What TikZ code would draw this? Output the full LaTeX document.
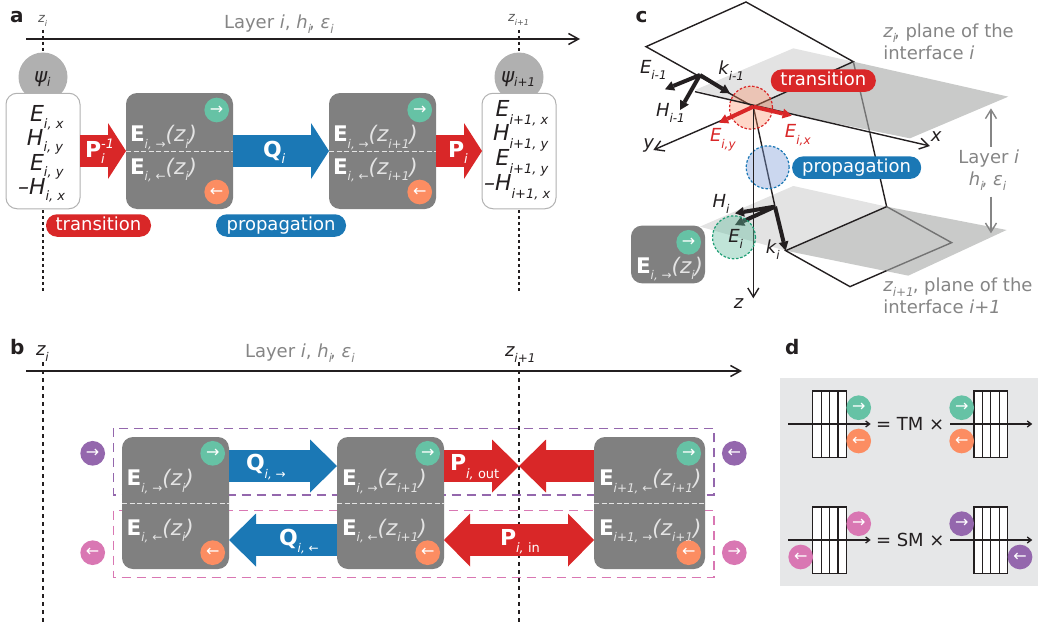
\documentclass[tikz,border=0pt]{standalone}
\usepackage{fontspec}
\setmainfont{DejaVu Sans}
\usetikzlibrary{arrows.meta, positioning, calc}

\definecolor{myred}{HTML}{D92728}
\definecolor{myblue}{HTML}{1B78B5}
\definecolor{boxgray}{HTML}{808080}
\definecolor{textgray}{HTML}{858585}
\definecolor{sublight}{HTML}{E4E4E4}
\definecolor{ink}{HTML}{231F20}
\definecolor{fwdgreen}{HTML}{66C2A5}
\definecolor{backorange}{HTML}{FC8D62}
\definecolor{mypurple}{HTML}{9467AD}
\definecolor{mypink}{HTML}{D977B3}
\definecolor{planelight}{HTML}{E3E3E3}
\definecolor{planedark}{HTML}{C9CAC9}
\definecolor{panelback}{HTML}{E6E7E8}
\definecolor{ringgreen}{HTML}{1F9E75}
\definecolor{ringblue}{HTML}{7C9AD6}

\newcommand{\dlow}[2][7pt]{\raisebox{-#1}{\fontsize{12}{12}\selectfont\itshape #2}}
\newcommand{\rarr}{{\upshape →}}
\newcommand{\larr}{{\upshape ←}}
\newcommand{\fieldtxt}[2]{{\bfseries E}\textcolor{sublight}{\dlow[6.5pt]{#1}\itshape(z\dlow[6.5pt]{#2})}}
\newcommand{\layerstack}[3]{%
    \foreach \k in {0,1,2,3}
        \node[stackcell] (#3\k) at ({#1+8.4*\k},#2) {};}

\tikzset{
    txt/.style={ % Every free text is placed by its baseline
        inner sep=0pt, outer sep=0pt, anchor=base west,
        text=ink, font=\fontsize{18}{20}\selectfont
    },
    greytxt/.style={txt, text=textgray},
    whitetxt/.style={txt, text=white, font=\fontsize{22}{24}\selectfont\bfseries},
    fieldlab/.style={txt, text=white, font=\fontsize{21.5}{23}\selectfont},
    rowtxt/.style={txt, font=\fontsize{22}{24}\selectfont\itshape},
    panel/.style={txt, font=\fontsize{20}{22}\selectfont\bfseries},
    fieldbox/.style={ % Grey boxes with the two field amplitudes
        fill=boxgray, rounded corners=11pt, inner sep=0pt, outer sep=0pt
    },
    rowbox/.style={
        draw=black!30, fill=white, line width=1pt, rounded corners=11pt,
        inner sep=0pt, outer sep=0pt, minimum width=74pt, minimum height=115.5pt
    },
    psi/.style={circle, fill=black!31, inner sep=0pt, minimum size=49pt},
    dot/.style={
        circle, inner sep=0pt, minimum size=24.7pt, text=white,
        font=\fontsize{16}{16}\selectfont
    },
    pill/.style={
        fill=#1, text=white, rounded corners=11pt, inner sep=0pt,
        minimum height=22.5pt, text height=13pt, text depth=3.5pt,
        font=\fontsize{18}{20}\selectfont
    },
    blockarrow/.style={line width=32pt, -{Triangle[length=18pt,width=56pt,line width=0pt]}},
    widearrow/.style={line width=32pt, -{Triangle[length=27pt,width=53pt,line width=0pt]}},
    bothwide/.style={line width=32pt, {Triangle[length=26pt,width=53pt,line width=0pt]}-{Triangle[length=26pt,width=53pt,line width=0pt]}},
    zline/.style={draw=ink, line width=1.5pt, dash pattern=on 3pt off 3pt},
    zlineb/.style={draw=ink, line width=1.5pt, dash pattern=on 4pt off 4pt},
    axis/.style={draw=ink, line width=1.5pt, -{Straight Barb[length=10pt,width=11pt]}},
    thinaxis/.style={draw=ink, line width=1.4pt, -{Straight Barb[length=9pt,width=11pt]}},
    edgeblack/.style={draw=ink, line width=1.4pt},
    edgegrey/.style={draw=black!55, line width=1.4pt},
    vec/.style={line width=4pt, -{Triangle[length=9pt,width=10pt,line width=0pt]}},
    halfline/.style={draw=sublight, line width=1pt, dash pattern=on 5pt off 2.5pt},
    stackcell/.style={
        draw=ink, fill=white, line width=1.3pt, inner sep=0pt, outer sep=0pt,
        minimum width=8.4pt, minimum height=66.7pt
    },
    daxis/.style={draw=ink, line width=1.3pt, -{Straight Barb[length=4pt,width=6pt]}},
    ringfill/.style={circle, minimum size=43pt, inner sep=0pt, line width=1.2pt, dash pattern=on 2.5pt off 1.8pt}
}

\begin{document}
\begin{tikzpicture}[x=1pt,y=-1pt]
    \useasboundingbox (0,0) rectangle (1038,626);

    % panel a
    \coordinate (za0) at (43,30);   \coordinate (za1) at (43,291);
    \coordinate (zb0) at (519,30);  \coordinate (zb1) at (519,291);
    \coordinate (axa0) at (26,39);  \coordinate (axa1) at (580,39);
    \draw[zline] (za0) -- (za1);
    \draw[zline] (zb0) -- (zb1);
    \draw[axis] (axa0) -- (axa1);
    \node[panel] (la) at (10,23) {a};
    \node[txt, font=\fontsize{13}{13}\selectfont\itshape, text=black!65] (za) at (38,23) {z\raisebox{-4pt}{\fontsize{8}{8}\selectfont i}};
    \node[txt, font=\fontsize{13}{13}\selectfont\itshape, text=black!65] (zb) at (508,22) {z\raisebox{-4pt}{\fontsize{8}{8}\selectfont i+1}};
    \node[greytxt] (layera) at (224,29) {Layer {\itshape i}, {\itshape h}\dlow[5pt]{i}\kern-2pt, {\itshape ε}\dlow[5pt]{i}};

    \node[psi] (psia) at (43,77) {};
    \node[psi] (psib) at (519,77) {};
    \node[txt, font=\fontsize{20}{20}\selectfont\itshape] (psiat) at (34,82) {ψ\dlow[4pt]{i}};
    \node[txt, font=\fontsize{20}{20}\selectfont\itshape] (psibt) at (501,82) {ψ\dlow[4pt]{i+1}};
    \node[rowbox] (rowa) at (43,151) {};
    \node[rowbox] (rowb) at (519,151) {};

    \node[rowtxt] (a1) at (30,121.7) {E\dlow[6.5pt]{\fontsize{13}{13}\selectfont i, x}};
    \node[rowtxt] (a2) at (27,145) {H\dlow[6.5pt]{\fontsize{13}{13}\selectfont i, y}};
    \node[rowtxt] (a3) at (30,170) {E\dlow[6.5pt]{\fontsize{13}{13}\selectfont i, y}};
    \node[rowtxt] (a4) at (18,194) {–H\dlow[6.5pt]{\fontsize{13}{13}\selectfont i, x}};
    \node[rowtxt] (b1) at (495.7,116) {E\dlow[8pt]{\fontsize{13}{13}\selectfont i+1, x}};
    \node[rowtxt] (b2) at (493,140) {H\dlow[8pt]{\fontsize{13}{13}\selectfont i+1, y}};
    \node[rowtxt] (b3) at (495.7,165.7) {E\dlow[8pt]{\fontsize{13}{13}\selectfont i+1, y}};
    \node[rowtxt] (b4) at (484,190.7) {–H\dlow[8pt]{\fontsize{13}{13}\selectfont i+1, x}};

    \node[fieldbox, minimum width=107pt, minimum height=116pt] (boxa) at (179.5,151) {};
    \node[fieldbox, minimum width=107pt, minimum height=116pt] (boxb) at (382.5,151) {};
    \draw[halfline] (boxa.west) -- (boxa.east);
    \draw[halfline] (boxb.west) -- (boxb.east);
    \node[dot, fill=fwdgreen] (afwd) at (216.7,110) {→};
    \node[dot, fill=backorange] (aback) at (216.7,192) {←};
    \node[dot, fill=fwdgreen] (bfwd) at (419.7,110) {→};
    \node[dot, fill=backorange] (bback) at (419.7,192) {←};
    \node[fieldlab] (ea1) at (130,141.6) {\fieldtxt{i, \rarr}{i}};
    \node[fieldlab] (ea2) at (130,174) {\fieldtxt{i, \larr}{i}};
    \node[fieldlab] (eb1) at (333,141.6) {\fieldtxt{i, \rarr}{i+1}};
    \node[fieldlab] (eb2) at (333,174) {\fieldtxt{i, \larr}{i+1}};

    \draw[blockarrow, myred] (rowa.east) -- (boxa.west);
    \draw[blockarrow, myblue] (boxa.east) -- (boxb.west);
    \draw[blockarrow, myred] (boxb.east) -- (rowb.west);
    \node[whitetxt] (pa) at (85,157) {P\dlow[6.5pt]{\fontsize{13}{13}\selectfont\mdseries i}\kern-3.5pt\raisebox{8.5pt}{\fontsize{13}{13}\selectfont\mdseries\itshape -1}};
    \node[whitetxt] (qa) at (263,157) {Q\dlow[6.5pt]{\fontsize{13}{13}\selectfont\mdseries i}};
    \node[whitetxt] (pb) at (448,157) {P\dlow[6.5pt]{\fontsize{13}{13}\selectfont\mdseries i}};
    \node[pill=myred, minimum width=105pt] (transa) at (98.5,225.5) {transition};
    \node[pill=myblue, minimum width=130pt] (propa) at (281,225.5) {propagation};

    % panel b
    \coordinate (zc0) at (43,362);   \coordinate (zc1) at (43,626);
    \coordinate (zd0) at (519,362);  \coordinate (zd1) at (519,626);
    \coordinate (axb0) at (26,371);  \coordinate (axb1) at (742,371);
    \coordinate (rowtop) at (0,466); \coordinate (rowbot) at (0,540);
    \coordinate (tipout) at (519,466);
    \draw[zlineb] (zc0) -- (zc1);
    \draw[zlineb] (zd0) -- (zd1);
    \draw[axis] (axb0) -- (axb1);
    \node[panel] (lb) at (10,354) {b};
    \node[txt] (zc) at (36,355) {\itshape z\dlow[6pt]{i}};
    \node[txt] (zd) at (505,356) {\itshape z\dlow[6pt]{i+1}};
    \node[greytxt] (layerb) at (245,357) {Layer {\itshape i}, {\itshape h}\dlow[5pt]{i}\kern-2pt, {\itshape ε}\dlow[5pt]{i}};

    \draw[mypurple, line width=1.3pt, dash pattern=on 9pt off 6pt] (113.3,428.3) rectangle (714,495);
    \draw[mypink, line width=1.3pt, dash pattern=on 9pt off 6pt] (113.3,510.7) rectangle (714,577.3);

    \node[fieldbox, minimum width=107pt, minimum height=132pt] (boxc) at (175.5,503) {};
    \node[fieldbox, minimum width=107pt, minimum height=132pt] (boxd) at (390.5,503) {};
    \node[fieldbox, minimum width=111pt, minimum height=132pt] (boxe) at (649.5,503) {};
    \draw[halfline] (boxc.west) -- (boxc.east);
    \draw[halfline] (boxd.west) -- (boxd.east);
    \draw[halfline] (boxe.west) -- (boxe.east);

    \draw[widearrow, myblue] (boxc.east |- rowtop) -- (boxd.west |- rowtop);
    \draw[widearrow, myblue] (boxd.west |- rowbot) -- (boxc.east |- rowbot);
    \draw[widearrow, myred] (boxd.east |- rowtop) -- (tipout);
    \draw[widearrow, myred] (boxe.west |- rowtop) -- (tipout);
    \draw[bothwide, myred] (boxd.east |- rowbot) -- (boxe.west |- rowbot);

    \node[dot, fill=mypurple] (sideaf) at (92.7,453.3) {→};
    \node[dot, fill=mypink] (sideab) at (92.7,552.7) {←};
    \node[dot, fill=mypurple] (sidebb) at (734.3,453.3) {←};
    \node[dot, fill=mypink] (sidebf) at (734.3,552.7) {→};
    \node[dot, fill=fwdgreen] (cfwd) at (212.7,453.3) {→};
    \node[dot, fill=backorange] (cback) at (212.7,552.7) {←};
    \node[dot, fill=fwdgreen] (dfwd) at (427.7,453.3) {→};
    \node[dot, fill=backorange] (dback) at (427.7,552.7) {←};
    \node[dot, fill=fwdgreen] (efwd) at (688.7,453.3) {→};

    \node[fieldlab] (ec1) at (126.7,485.7) {\fieldtxt{i, \rarr}{i}};
    \node[fieldlab] (ec2) at (126.7,535) {\fieldtxt{i, \larr}{i}};
    \node[fieldlab] (ed1) at (342,485.7) {\fieldtxt{i, \rarr}{i+1}};
    \node[fieldlab] (ed2) at (342,535) {\fieldtxt{i, \larr}{i+1}};
    \node[fieldlab] (ee1) at (599,485.7) {\fieldtxt{i+1, \larr}{i+1}};
    \node[fieldlab] (ee2) at (599,535) {\fieldtxt{i+1, \rarr}{i+1}};
    \node[dot, fill=backorange] (eback) at (688.7,552.7) {←};

    \node[whitetxt] (qc) at (246,470) {Q\dlow[8pt]{\mdseries i, \rarr}};
    \node[whitetxt] (qd) at (279,545) {Q\dlow[7pt]{\mdseries i, \larr}};
    \node[whitetxt] (pout) at (450,470) {P\dlow[8pt]{\mdseries\fontsize{13}{13}\selectfont i, {\upshape out}}};
    \node[whitetxt] (pin) at (500,545) {P\dlow[7pt]{\mdseries\fontsize{13}{13}\selectfont i, {\upshape in}}};

    % panel c, typed in a finer grid
    \node[panel] (lc) at (635.7,23) {c};
    \begin{scope}[shift={(620,0)},x=0.3333pt,y=-0.3333pt]
        \coordinate (ori) at (400,320);
        \coordinate (ua) at (78,140);   \coordinate (ub) at (378,6);
        \coordinate (uc) at (700,185);  \coordinate (la0) at (497,752);
        \coordinate (lb0) at (800,620); \coordinate (lc0) at (995,728);
        \coordinate (ld0) at (690,860); \coordinate (lm0) at (800,812);
        \coordinate (um0) at (750,400);
        \coordinate (vup) at (240,225);
        \coordinate (vlo) at (465,620);

        \fill[planelight] (225,270) -- (520,145) -- (uc) -- (ori) -- cycle;
        \fill[planedark] (ori) -- (uc) -- (1165,290) -- (870,415) -- cycle;
        \fill[planelight] (240,680) -- (520,558) -- (lb0) -- (la0) -- cycle;
        \fill[planedark] (la0) -- (lb0) -- (1160,690) -- (865,827) -- cycle;

        \draw[edgeblack] (ua) -- (ub) -- (uc) -- (ori) -- cycle;
        \draw[edgegrey] (uc) -- (um0);
        \draw[edgeblack] (um0) -- (lb0);
        \draw[edgeblack] (lb0) -- (la0) -- (ld0) -- (lm0);
        \draw[edgegrey] (lb0) -- (lc0) -- (lm0);
        \draw[edgeblack] (ori) -- (vlo);

        \node[ringfill, draw=myred, fill=backorange, fill opacity=.35] (ringr) at (393,323) {};
        \node[ringfill, draw=myblue, fill=ringblue, fill opacity=.4] (ringb) at (443,502) {};

        \coordinate (yend) at (100,450);
        \coordinate (xstart) at (225,275); \coordinate (xend) at (930,438);
        \coordinate (zend) at (400,895);
        \draw[thinaxis] (ori) -- (yend);
        \draw[thinaxis] (xstart) -- (xend);
        \draw[thinaxis] (ori) -- (zend);

        \coordinate (eup) at (135,268); \coordinate (hup) at (180,330); \coordinate (kup) at (330,280);
        \draw[vec, ink] (vup) -- (eup);
        \draw[vec, ink] (vup) -- (hup);
        \draw[vec, ink] (vup) -- (kup);
        \coordinate (eiy) at (297,368); \coordinate (eix) at (515,347);
        \draw[vec, myred] (ori) -- (eiy);
        \draw[vec, myred] (ori) -- (eix);

        \coordinate (hlo) at (345,640); \coordinate (elo) at (345,675); \coordinate (klo) at (497,752);
        \draw[vec, ink] (vlo) -- (elo);
        \draw[vec, ink] (vlo) -- (klo);
        \node[ringfill, draw=ringgreen, fill=ringgreen!70, fill opacity=.4] (ringg) at (342,712) {};
        \draw[vec, ink] (vlo) -- (hlo);

        \node[txt] (tx) at (933,425) {\itshape x};
        \node[txt] (ty) at (70,445) {\itshape y};
        \node[txt] (tz) at (342,925) {\itshape z};
        \node[txt] (te0) at (60,222) {\itshape E\dlow[6pt]{i-1}};
        \node[txt] (th0) at (108,350) {\itshape H\dlow[6pt]{i-1}};
        \node[txt] (tk0) at (295,225) {\itshape k\dlow[6pt]{i-1}};
        \node[txt, text=myred] (tey) at (270,425) {\itshape E\dlow[7pt]{i,y}};
        \node[txt, text=myred] (tex) at (495,412) {\itshape E\dlow[7pt]{i,x}};
        \node[txt] (thi) at (278,622) {\itshape H\dlow[6pt]{i}};
        \node[txt] (tei) at (325,728) {\itshape E\dlow[6pt]{i}};
        \node[txt] (tki) at (438,760) {\itshape k\dlow[6pt]{i}};

        \node[fieldbox, minimum width=74pt, minimum height=57.7pt] (boxf) at (144,763.5) {};
        \node[dot, fill=fwdgreen] (ffwd) at (206,727) {→};
        \node[fieldlab] (ef) at (48,820) {\fieldtxt{i, \rarr}{i}};

        \node[pill=myred, minimum width=105pt] (transc) at (610,242) {transition};
        \node[pill=myblue, minimum width=129pt] (propc) at (710,503) {propagation};

        \node[greytxt] (pl1) at (790,113) {{\itshape z}\dlow[5pt]{i}\kern-2pt, plane of the};
        \node[greytxt] (pl2) at (790,178) {interface {\itshape i}};
        \node[greytxt] (pl3) at (790,875) {{\itshape z}\dlow[5pt]{i+1}\kern-1pt, plane of the};
        \node[greytxt] (pl4) at (790,940) {interface {\itshape i+1}};
        \node[greytxt] (ly1) at (1015,490) {Layer {\itshape i}};
        \node[greytxt] (ly2) at (1047,558) {{\itshape h}\dlow[5pt]{i}\kern-2pt, {\itshape ε}\dlow[5pt]{i}};
        \coordinate (lyup0) at (1113,440);  \coordinate (lyup1) at (1113,325);
        \coordinate (lydn0) at (1113,590);  \coordinate (lydn1) at (1113,700);
        \draw[thinaxis, draw=textgray] (lyup0) -- (lyup1);
        \draw[thinaxis, draw=textgray] (lydn0) -- (lydn1);
    \end{scope}

    % panel d
    \node[panel] (ld) at (785,354) {d};
    \fill[panelback] (780,377.7) rectangle (1038,585.7);
    \layerstack{817}{424.3}{sa}
    \layerstack{978.2}{424.3}{sb}
    \layerstack{817}{540.3}{sc}
    \layerstack{978.2}{540.3}{sd}
    \coordinate (da0) at (788.3,424); \coordinate (da1) at (870.7,424);
    \coordinate (db0) at (950,424);   \coordinate (db1) at (1032.3,424);
    \coordinate (dc0) at (788.3,540); \coordinate (dc1) at (870.7,540);
    \coordinate (dd0) at (950,540);   \coordinate (dd1) at (1032.3,540);
    \draw[daxis] (da0) -- (da1);
    \draw[daxis] (db0) -- (db1);
    \draw[daxis] (dc0) -- (dc1);
    \draw[daxis] (dd0) -- (dd1);
    \node[dot, fill=fwdgreen] (g1) at (858.7,407.7) {→};
    \node[dot, fill=backorange] (o1) at (858.7,441) {←};
    \node[dot, fill=fwdgreen] (g2) at (961.7,407.7) {→};
    \node[dot, fill=backorange] (o2) at (961.7,441) {←};
    \node[dot, fill=mypink] (p1) at (858.7,523.7) {→};
    \node[dot, fill=mypink] (p2) at (800.7,557) {←};
    \node[dot, fill=mypurple] (v1) at (961.7,523.7) {→};
    \node[dot, fill=mypurple] (v2) at (1020,557) {←};
    \node[txt] (tm) at (876,430) {= TM ×};
    \node[txt] (sm) at (876,546) {= SM ×};
\end{tikzpicture}
\end{document}
